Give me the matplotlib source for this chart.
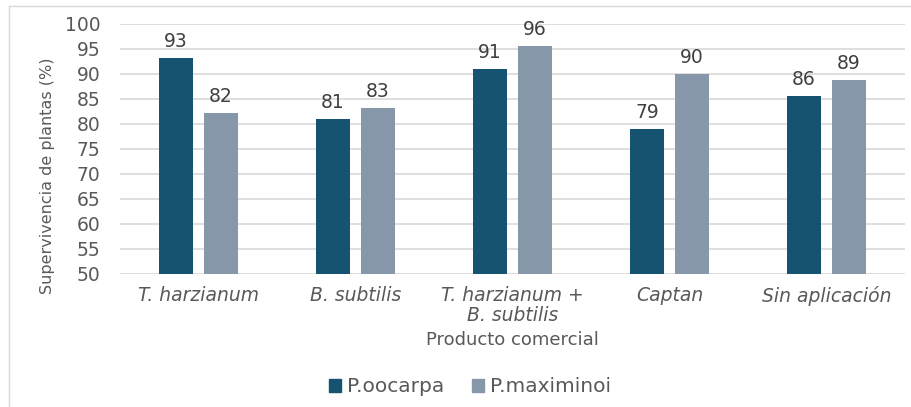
import matplotlib
matplotlib.use("Agg")
from matplotlib import pyplot as plt
from matplotlib.patches import Patch
from matplotlib.lines import Line2D
import numpy as np

# data
productos = ["T. harzianum", "B. subtilis", "T. harzianum +\nB. subtilis", "Captan", "Sin aplicación"]
oocarpa = [93.2, 81.0, 91.0, 78.9, 85.6]
maximinoi = [82.1, 83.2, 95.6, 89.9, 88.8]

c_dark = '#155370'
c_light = '#8597A9'
txt = '#404040'
grid = '#D9D9D9'

plt.rcParams['font.family'] = ['DejaVu Sans']

fig = plt.figure(figsize=(9.12, 4.07), dpi=100)
W, H = 912, 407
ax = fig.add_axes([120/W, 1 - 273.7/H, 785/W, 250.2/H])

x = np.arange(len(productos))
bw = 0.22
off = 0.143
b1 = ax.bar(x - off, oocarpa, bw, color=c_dark, label='P.oocarpa', zorder=3)
b2 = ax.bar(x + off, maximinoi, bw, color=c_light, label='P.maximinoi', zorder=3)

ax.bar_label(b1, labels=[f"{round(v)}" for v in oocarpa], padding=5, fontsize=13.5, color=txt)
ax.bar_label(b2, labels=[f"{round(v)}" for v in maximinoi], padding=5, fontsize=13.5, color=txt)

ax.set_ylim(50, 100)
ax.set_xlim(-0.5, len(productos) - 0.5)
ax.set_yticks(np.arange(50, 101, 5))
ax.yaxis.grid(True, color=grid, linewidth=1.2, zorder=0)
for s in ax.spines.values():
    s.set_visible(False)
ax.tick_params(axis='both', length=0, labelsize=13.5, labelcolor='#595959')
ax.tick_params(axis='y', pad=14)
ax.tick_params(axis='x', pad=9)
ax.set_xticks(x)
ax.set_xticklabels(productos, style='italic', linespacing=1.05)

ax.set_ylabel('Supervivencia de plantas (%)', fontsize=11.5, color='#595959')
ax.yaxis.set_label_coords(-0.083, 0.39)
ax.set_xlabel('Producto comercial', fontsize=13, color='#595959', labelpad=4)

handles = [Patch(color=c_dark), Patch(color=c_light)]
fig.legend(handles, ['P.oocarpa', 'P.maximinoi'], loc='center', bbox_to_anchor=(470/W, 1 - 387/H),
           ncol=2, frameon=False, fontsize=14.5, handlelength=0.6, handleheight=0.6,
           handletextpad=0.3, columnspacing=1.34, labelcolor='#595959')

# chart border (light gray)
fig.add_artist(Line2D([9/W, 1], [1 - 6/H, 1 - 6/H], color=grid, linewidth=1, transform=fig.transFigure))
fig.add_artist(Line2D([9/W, 9/W], [0, 1 - 6/H], color=grid, linewidth=1, transform=fig.transFigure))

fig.savefig('out.png', dpi=100)
